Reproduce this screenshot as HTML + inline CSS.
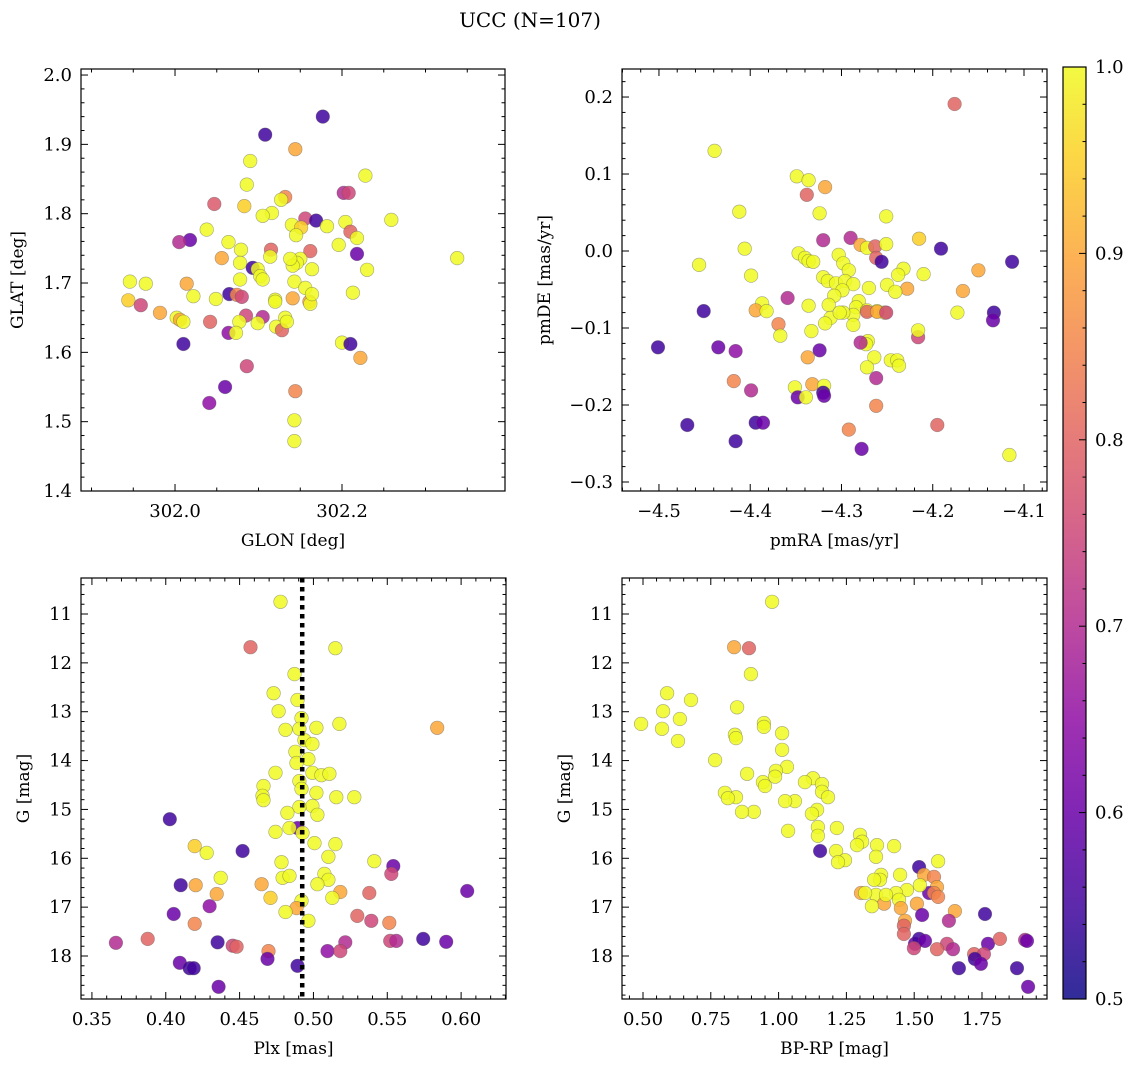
<!DOCTYPE html>
<html><head><meta charset="utf-8">
<style>
html,body{margin:0;padding:0;background:#fff;}
svg{display:block;font-family:"DejaVu Serif","Liberation Serif",serif;}
</style></head>
<body>
<svg id="fig" width="1136" height="1067" viewBox="0 0 1136 1067" xmlns="http://www.w3.org/2000/svg">
<rect width="1136" height="1067" fill="#fff"/>
<text x="530" y="27" text-anchor="middle" font-size="20">UCC (N=107)</text>
<defs>
<linearGradient id="plasma" x1="0" y1="1" x2="0" y2="0">
<stop offset="0" stop-color="#0d0887"/><stop offset="0.1" stop-color="#41049d"/><stop offset="0.2" stop-color="#6a00a8"/><stop offset="0.3" stop-color="#8f0da4"/><stop offset="0.4" stop-color="#b12a90"/><stop offset="0.5" stop-color="#cc4778"/><stop offset="0.6" stop-color="#e16462"/><stop offset="0.7" stop-color="#f2844b"/><stop offset="0.8" stop-color="#fca636"/><stop offset="0.9" stop-color="#fcce25"/><stop offset="1" stop-color="#f0f921"/>
</linearGradient>
</defs>
</svg>
<script>
// Panel 1: GLON / GLAT
const p1Glon=[302.108,302.177,302.144,302.090,302.228,302.086,302.083,302.047,302.132,302.127,302.116,302.105,302.156,302.169,302.259,302.140,302.204,302.182,302.202,302.208,302.151,302.145,302.210,302.218,302.018,302.005,302.038,302.064,302.196,302.079,302.115,302.162,302.218,302.114,302.078,302.150,302.146,302.056,302.093,302.099,302.164,302.230,302.141,302.102,302.105,302.143,301.946,301.965,302.014,302.078,302.338,302.156,302.120,302.065,302.074,302.080,302.049,302.022,301.944,301.959,301.982,302.002,302.006,302.010,302.042,302.085,302.105,302.120,302.132,302.141,302.161,302.162,302.077,302.099,302.121,302.128,302.134,302.064,302.073,302.010,302.200,302.210,302.222,302.086,302.060,302.144,302.041,302.143,302.143,302.213,302.164,302.138];
const p1Glat=[1.914,1.940,1.893,1.876,1.855,1.842,1.811,1.814,1.824,1.820,1.801,1.797,1.793,1.790,1.791,1.784,1.788,1.782,1.830,1.830,1.780,1.769,1.774,1.765,1.762,1.759,1.777,1.759,1.755,1.748,1.748,1.746,1.742,1.738,1.729,1.735,1.729,1.736,1.722,1.720,1.720,1.719,1.725,1.710,1.705,1.702,1.702,1.699,1.699,1.705,1.736,1.693,1.676,1.684,1.683,1.680,1.677,1.681,1.675,1.668,1.657,1.650,1.647,1.644,1.644,1.653,1.651,1.673,1.650,1.678,1.673,1.670,1.644,1.642,1.637,1.632,1.644,1.628,1.628,1.612,1.614,1.612,1.592,1.580,1.550,1.544,1.527,1.502,1.472,1.686,1.684,1.735];
const p1Prob=[.55,.55,.9,1,1,1,.95,.78,.85,1,1,1,.75,.55,1,1,1,1,.7,.75,.95,1,.8,1,.6,.7,1,1,1,1,.8,.8,.6,1,1,1,1,.9,.55,1,1,1,1,1,1,1,1,1,.9,1,1,1,1,.55,.85,.75,1,1,.95,.75,.9,1,.9,1,.8,.75,.7,1,1,.9,.9,1,1,1,1,.8,1,.65,1,.55,1,.55,.9,.75,.6,.85,.65,1,1,1,1,1];
// Panel 2: pmRA / pmDE
const p2PmRA=[-4.176,-4.439,-4.349,-4.336,-4.318,-4.338,-4.412,-4.324,-4.251,-4.320,-4.215,-4.290,-4.279,-4.272,-4.263,-4.251,-4.191,-4.406,-4.347,-4.340,-4.336,-4.331,-4.303,-4.298,-4.262,-4.256,-4.113,-4.456,-4.232,-4.238,-4.210,-4.150,-4.292,-4.320,-4.399,-4.315,-4.306,-4.296,-4.287,-4.299,-4.250,-4.228,-4.167,-4.241,-4.270,-4.359,-4.281,-4.308,-4.314,-4.284,-4.336,-4.387,-4.272,-4.261,-4.253,-4.287,-4.298,-4.312,-4.318,-4.302,-4.394,-4.451,-4.382,-4.272,-4.261,-4.251,-4.173,-4.133,-4.134,-4.369,-4.333,-4.287,-4.367,-4.216,-4.216,-4.271,-4.273,-4.279,-4.324,-4.416,-4.435,-4.501,-4.337,-4.264,-4.246,-4.239,-4.237,-4.272,-4.262,-4.418,-4.351,-4.332,-4.319,-4.399,-4.320,-4.348,-4.339,-4.319,-4.262,-4.394,-4.386,-4.469,-4.292,-4.195,-4.416,-4.278,-4.116];
const p2PmDE=[.191,.130,.097,.092,.083,.073,.051,.049,.045,.014,.016,.017,.008,.004,.006,.009,.003,.003,-.003,-.009,-.013,-.014,-.005,-.016,-.009,-.014,-.014,-.018,-.023,-.031,-.030,-.025,-.025,-.034,-.032,-.039,-.042,-.039,-.043,-.051,-.044,-.049,-.052,-.053,-.048,-.061,-.065,-.058,-.070,-.073,-.071,-.068,-.077,-.078,-.080,-.083,-.080,-.087,-.094,-.080,-.077,-.078,-.078,-.079,-.079,-.080,-.080,-.080,-.090,-.095,-.104,-.096,-.110,-.112,-.103,-.117,-.121,-.119,-.129,-.130,-.125,-.125,-.138,-.138,-.142,-.142,-.149,-.151,-.165,-.169,-.177,-.173,-.175,-.181,-.184,-.190,-.190,-.188,-.201,-.223,-.223,-.226,-.232,-.226,-.247,-.257,-.265];
const p2Prob=[.8,1,1,1,.9,.8,1,1,1,.7,.95,.7,.9,1,.8,1,.55,1,1,1,1,1,1,1,.8,.55,.55,1,1,1,1,.9,1,1,1,1,1,1,1,1,1,.9,.9,1,1,.7,1,1,1,1,1,1,1,1,1,1,1,1,1,1,.9,.55,1,.8,.9,.75,1,.55,.6,.85,1,1,1,.75,1,1,1,.7,.6,.65,.6,.55,.9,1,1,1,1,1,.7,.85,1,.9,1,.7,.55,.6,1,.6,.85,.55,.6,.55,.85,.8,.55,.6,1];
// Panel 3: Plx / G
const p3Plx=[.4777,.4574,.5149,.4872,.4730,.4892,.4764,.4919,.4905,.4811,.5020,.5176,.5838,.4939,.4993,.4878,.4966,.4885,.4743,.4993,.5054,.5108,.4905,.4662,.4919,.5020,.4655,.4662,.5155,.4993,.5277,.4905,.4824,.5027,.4892,.4838,.4926,.4743,.4027,.5149,.5007,.4520,.4196,.4277,.5101,.4784,.5412,.5541,.4791,.4372,.4838,.5074,.5101,.5027,.4649,.4101,.4203,.5182,.5378,.4345,.6041,.4709,.5128,.5527,.4919,.4885,.4811,.4297,.4054,.5297,.5392,.5514,.4196,.4966,.4453,.4480,.4696,.5216,.5520,.5561,.5095,.5182,.4351,.3878,.3662,.5743,.5899,.4095,.4162,.4189,.4689,.4892,.4358];
const p3G=[10.75,11.68,11.70,12.23,12.62,12.76,12.99,13.13,13.35,13.37,13.33,13.25,13.33,13.58,13.66,13.82,13.97,14.05,14.25,14.25,14.30,14.27,14.42,14.52,14.58,14.66,14.72,14.81,14.75,14.93,14.75,14.95,15.07,15.11,15.38,15.38,15.48,15.46,15.20,15.71,15.69,15.85,15.75,15.89,15.97,16.08,16.06,16.16,16.40,16.40,16.36,16.32,16.44,16.53,16.53,16.55,16.55,16.69,16.71,16.73,16.67,16.81,16.81,16.32,16.87,17.02,17.10,16.98,17.14,17.18,17.28,17.32,17.34,17.28,17.79,17.81,17.90,17.72,17.69,17.69,17.90,17.90,17.72,17.65,17.73,17.65,17.71,18.14,18.25,18.25,18.06,18.20,18.63];
const p3Prob=[1,.8,1,1,1,1,1,1,1,1,1,1,.9,1,1,1,1,1,1,1,1,1,1,1,1,1,1,1,1,1,1,1,1,1,.6,1,1,1,.55,1,1,.55,.95,1,1,1,1,.6,1,1,1,1,1,1,.9,.55,.9,.9,.8,.9,.6,.95,1,.75,1,.9,1,.65,.6,.8,.75,.85,.85,1,.75,.8,.85,.7,.75,.7,.65,.75,.55,.8,.7,.55,.6,.6,.55,.55,.6,.55,.6];
const p3PlxLine=[0.4924];
// Panel 4: BP-RP / G
const p4BpRp=[.976,.836,.891,.898,.589,.677,.574,.847,.493,.839,.843,.636,.570,.629,.946,.946,1.013,1.013,.766,1.031,.990,.884,.987,.942,1.127,1.160,.950,1.097,.802,1.160,1.182,1.060,1.024,.843,.813,1.142,.909,.865,1.123,1.145,1.215,1.035,1.145,1.300,1.308,1.289,1.363,1.426,1.212,1.153,1.518,1.588,1.245,1.219,1.359,1.536,1.573,1.584,1.555,1.573,1.378,1.374,1.352,1.448,1.521,1.473,1.433,1.359,1.444,1.304,1.319,1.389,1.396,1.510,1.588,1.650,1.761,1.344,1.451,1.466,1.462,1.529,1.628,1.462,1.503,1.518,1.540,1.621,1.584,1.499,1.643,1.721,1.772,1.816,1.909,1.916,1.757,1.724,1.665,1.746,1.879,1.920];
const p4G=[10.75,11.68,11.70,12.23,12.62,12.76,12.99,12.91,13.25,13.47,13.54,13.15,13.35,13.60,13.23,13.31,13.44,13.78,13.99,14.13,14.21,14.27,14.33,14.44,14.36,14.48,14.52,14.44,14.66,14.64,14.75,14.83,14.83,14.75,14.77,15.01,15.05,15.05,15.09,15.36,15.38,15.44,15.54,15.52,15.66,15.73,15.73,15.75,15.85,15.85,16.18,16.06,16.04,16.08,15.97,16.34,16.38,16.59,16.71,16.71,16.34,16.44,16.44,16.34,16.55,16.65,16.71,16.75,16.85,16.71,16.71,16.93,16.75,16.93,16.79,17.08,17.14,16.98,17.02,17.28,17.38,17.16,17.28,17.55,17.75,17.65,17.69,17.75,17.86,17.84,17.86,17.96,17.75,17.65,17.67,17.69,17.96,18.06,18.25,18.16,18.25,18.63];
const p4Prob=[1,.9,.8,1,1,1,1,1,1,1,1,1,1,1,1,1,1,1,1,1,1,1,1,1,1,1,1,1,1,1,1,1,1,1,1,1,1,1,1,1,1,1,1,1,1,1,1,1,1,.55,.55,1,1,1,1,.9,.85,.9,.6,.85,1,1,1,1,1,1,1,1,1,.9,1,.9,1,.9,.85,.9,.55,1,.9,.9,.8,.6,.7,.8,.6,.55,.6,.75,.8,.75,.7,.8,.6,.8,.7,.6,.75,.55,.55,.6,.55,.6];
// Tick label arrays
const p1XTicks=[302.0,302.2];
const p1YTicks=[1.4,1.5,1.6,1.7,1.8,1.9,2.0];
const p2XTicks=[-4.5,-4.4,-4.3,-4.2,-4.1];
const p2YTicks=[-0.3,-0.2,-0.1,0.0,0.1,0.2];
const p3XTicks=[0.35,0.40,0.45,0.50,0.55,0.60];
const gTicks=[11,12,13,14,15,16,17,18];
const p4XTicks=[0.50,0.75,1.00,1.25,1.50,1.75];
const cbTicks=[0.5,0.6,0.7,0.8,0.9,1.0];

const NS="http://www.w3.org/2000/svg";
const svg=document.getElementById('fig');
function mk(tag,attrs,parent){const e=document.createElementNS(NS,tag);for(const k in attrs)e.setAttribute(k,attrs[k]);(parent||svg).appendChild(e);return e;}
const stops=[[13,8,135],[65,4,157],[106,0,168],[143,13,164],[177,42,144],[204,71,120],[225,100,98],[242,132,75],[252,166,54],[252,206,37],[240,249,33]];
function plasma(p){let t=(p-0.5)/0.5;t=Math.max(0,Math.min(1,t));const f=t*10;const i=Math.min(9,Math.floor(f));const r=f-i;const a=stops[i],b=stops[i+1];
return 'rgb('+a.map((v,k)=>Math.round(v+(b[k]-v)*r)).join(',')+')';}
function fmt(v,d){const s=Math.abs(v).toFixed(d);return (v<-1e-9?'\u2212':'')+s;}

function panel(cfg){
  const g=mk('g',{});
  
  
  const {x0,x1,y0,y1,xmin,xmax,ymin,ymax,invY}=cfg;
  const sx=v=>x0+(v-xmin)/(xmax-xmin)*(x1-x0);
  const sy=v=>invY? y0+(v-ymin)/(ymax-ymin)*(y1-y0) : y1-(v-ymin)/(ymax-ymin)*(y1-y0);
  const clip='clip-'+cfg.name;
  const cp=mk('clipPath',{id:clip},g);mk('rect',{x:x0,y:y0,width:x1-x0,height:y1-y0},cp);
  const pg=mk('g',{'clip-path':'url(#'+clip+')'},g);
  
  
  const n=Math.min(cfg.xs.length,cfg.ys.length,cfg.ps.length);
  for(let i=0;i<n;i++){
    const c=mk('circle',{cx:sx(cfg.xs[i]).toFixed(1),cy:sy(cfg.ys[i]).toFixed(1),r:6.8,fill:plasma(cfg.ps[i]),'fill-opacity':0.85,stroke:'#555','stroke-opacity':0.5,'stroke-width':0.6},pg);
    
    
  }
  if(cfg.vline){cfg.vline.forEach(v=>{
    const l=mk('line',{x1:sx(v),x2:sx(v),y1:y0,y2:y1,stroke:'#000','stroke-width':4.5,'stroke-dasharray':'4.5,4.5'},pg);
    
    
  });}
  const tk=mk('g',{stroke:'#000','stroke-width':1},g);
  const eps=1e-9;
  for(let v=Math.ceil(xmin/cfg.xminor-eps)*cfg.xminor; v<=xmax+eps; v+=cfg.xminor){
    const major=Math.abs(v/cfg.xmajor-Math.round(v/cfg.xmajor))<1e-6; const L=major?7:3.5; const X=sx(v);
    mk('line',{x1:X,x2:X,y1:y1,y2:y1-L},tk);mk('line',{x1:X,x2:X,y1:y0,y2:y0+L},tk);
  }
  const yl=Math.min(ymin,ymax),yh=Math.max(ymin,ymax);
  for(let v=Math.ceil(yl/cfg.yminor-eps)*cfg.yminor; v<=yh+eps; v+=cfg.yminor){
    const major=Math.abs(v/cfg.ymajor-Math.round(v/cfg.ymajor))<1e-6; const L=major?7:3.5; const Y=sy(v);
    mk('line',{x1:x0,x2:x0+L,y1:Y,y2:Y},tk);mk('line',{x1:x1,x2:x1-L,y1:Y,y2:Y},tk);
  }
  mk('rect',{x:x0,y:y0,width:x1-x0,height:y1-y0,fill:'none',stroke:'#000','stroke-width':1.2},g);
  cfg.xticks.forEach(v=>{const t=mk('text',{x:sx(v),y:y1+26,'text-anchor':'middle','font-size':18},g);t.textContent=fmt(v,cfg.xdec);
    
    });
  cfg.yticks.forEach(v=>{const t=mk('text',{x:x0-9,y:sy(v)+6,'text-anchor':'end','font-size':18},g);t.textContent=fmt(v,cfg.ydec);
    
    });
  const xt=mk('text',{x:(x0+x1)/2,y:y1+55,'text-anchor':'middle','font-size':17},g);xt.textContent=cfg.xlabel;
  
  
  const yc=(y0+y1)/2, yx=cfg.ylabX;
  const yt=mk('text',{x:yx,y:yc,'text-anchor':'middle','font-size':17,transform:'rotate(-90 '+yx+' '+yc+')'},g);yt.textContent=cfg.ylabel;
  
  
}

panel({name:'glon-glat-panel',x0:81,x1:505,y0:69,y1:491,xmin:301.8874,xmax:302.3952,ymin:1.4,ymax:2.0087,xs:p1Glon,ys:p1Glat,ps:p1Prob,
  xminor:0.05,xmajor:0.2,yminor:0.02,ymajor:0.1,xticks:p1XTicks,yticks:p1YTicks,xdec:1,ydec:1,xlabel:'GLON [deg]',ylabel:'GLAT [deg]',ylabX:23});
panel({name:'pm-panel',x0:622,x1:1047,y0:69,y1:491,xmin:-4.5405,xmax:-4.0748,ymin:-0.3117,ymax:0.2364,xs:p2PmRA,ys:p2PmDE,ps:p2Prob,
  xminor:0.02,xmajor:0.1,yminor:0.02,ymajor:0.1,xticks:p2XTicks,yticks:p2YTicks,xdec:1,ydec:1,xlabel:'pmRA [mas/yr]',ylabel:'pmDE [mas/yr]',ylabX:550});
panel({name:'plx-g-panel',x0:81,x1:506,y0:578,y1:999,xmin:0.3426,xmax:0.6304,ymin:10.263,ymax:18.88,invY:true,xs:p3Plx,ys:p3G,ps:p3Prob,vline:p3PlxLine,
  xminor:0.01,xmajor:0.05,yminor:0.2,ymajor:1,xticks:p3XTicks,yticks:gTicks,xdec:2,ydec:0,xlabel:'Plx [mas]',ylabel:'G [mag]',ylabX:29});
panel({name:'cmd-panel',x0:622,x1:1047,y0:578,y1:999,xmin:0.4226,xmax:1.9897,ymin:10.263,ymax:18.88,invY:true,xs:p4BpRp,ys:p4G,ps:p4Prob,
  xminor:0.05,xmajor:0.25,yminor:0.2,ymajor:1,xticks:p4XTicks,yticks:gTicks,xdec:2,ydec:0,xlabel:'BP-RP [mag]',ylabel:'G [mag]',ylabX:570});

(function(){
  const cx0=1063,cx1=1086,cy0=67,cy1=999;
  const g=mk('g',{});
  
  
  mk('rect',{x:cx0,y:cy0,width:cx1-cx0,height:cy1-cy0,fill:'url(#plasma)','fill-opacity':0.85},g);
  const sy=v=>cy1-(v-0.5)/0.5*(cy1-cy0);
  for(let v=0.5;v<=1.0001;v+=0.02){const major=Math.abs(v*10-Math.round(v*10))<1e-6;const L=major?7:3.5;
    mk('line',{x1:cx1,x2:cx1-L,y1:sy(v),y2:sy(v),stroke:'#000','stroke-width':1},g);}
  mk('rect',{x:cx0,y:cy0,width:cx1-cx0,height:cy1-cy0,fill:'none',stroke:'#000','stroke-width':1.2},g);
  cbTicks.forEach(v=>{const t=mk('text',{x:cx1+9,y:sy(v)+6,'font-size':18},g);t.textContent=v.toFixed(1);
    
    });
})();
</script>
</body></html>
